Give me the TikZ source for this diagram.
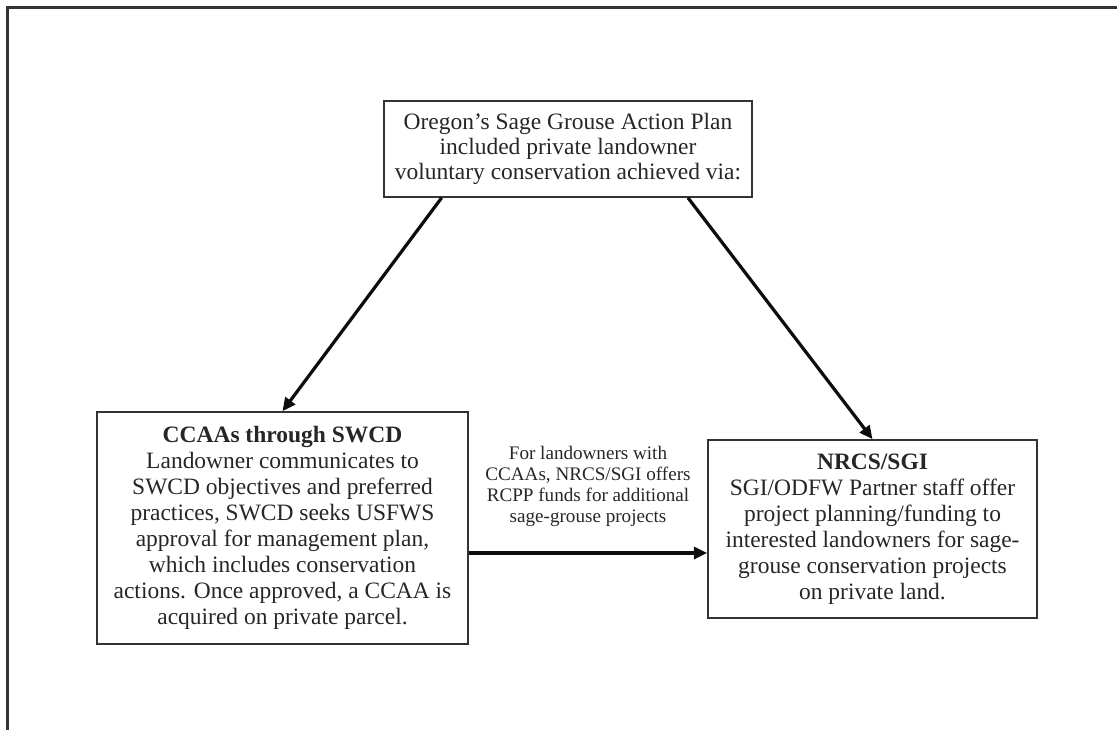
\documentclass[tikz,border=0pt]{standalone}
\usepackage{fontspec}
\setmainfont{Liberation Serif}
\usetikzlibrary{positioning,calc,arrows.meta}

\tikzset{
  planbox/.style={draw=black!80, line width=1.2pt, align=center, text=black!85, inner sep=0pt,
    font=\fontsize{16.7}{18.5}\selectfont},
  flow/.style={-{Triangle[length=0.33cm,width=0.3cm]}, line width=2.3pt, draw=black!95},
  flowlabel/.style={align=center, text=black!85, inner sep=0pt, font=\fontsize{13.6}{14.9}\selectfont},
}

\begin{document}
\begin{tikzpicture}
		\useasboundingbox (0,0) rectangle (27.925,-18.25);
		\draw[black!80, line width=1.8pt] (0.1875,-18.25) -- (0.1875,-0.1875) -- (27.925,-0.1875);
		
		\node[planbox, minimum width=9.2cm, minimum height=2.4cm, font=\fontsize{16.7}{17.8}\selectfont] (plan) at (14.2,-3.725) {Oregon’s Sage Grouse Action Plan\\included private landowner\\voluntary conservation achieved via:};
		\node[planbox, minimum width=9.275cm, minimum height=5.8cm] (ccaa) at (7.0625,-13.2) {\textbf{CCAAs through SWCD}\\Landowner communicates to\\SWCD objectives and preferred\\practices, SWCD seeks USFWS\\approval for management plan,\\which includes conservation\\actions. Once approved, a CCAA is\\acquired on private parcel.};
		\node[planbox, minimum width=8.225cm, minimum height=4.45cm] (nrcs) at (21.8125,-13.225) {\textbf{NRCS/SGI}\\SGI/ODFW Partner staff offer\\project planning/funding to\\interested landowners for sage-\\grouse conservation projects\\on private land.};
		
		\draw[flow] ([xshift=-3.16cm]plan.south) -- (ccaa.north);
		\draw[flow] ([xshift=3cm]plan.south) -- (nrcs.north);
		
		\coordinate (rcppstart) at ([yshift=-0.625cm]ccaa.east);
		\coordinate (rcppend) at (rcppstart -| nrcs.west);
		\draw[flow] (rcppstart) -- (rcppend);
		\node[flowlabel, above=0.65cm] (rcpp) at ($(rcppstart)!0.5!(rcppend)$) {For landowners with\\CCAAs, NRCS/SGI offers\\RCPP funds for additional\\sage-grouse projects};
	\end{tikzpicture}
\end{document}
